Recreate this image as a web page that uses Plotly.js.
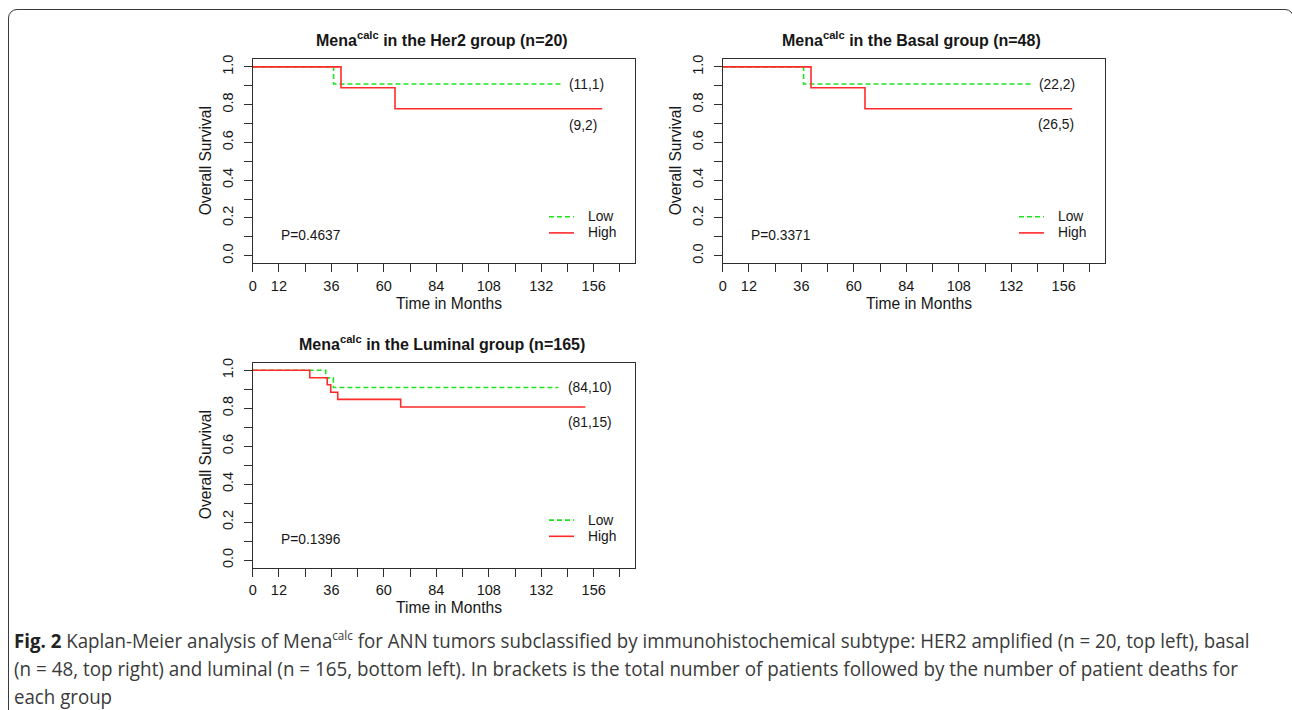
<!DOCTYPE html>
<html>
<head>
<meta charset="utf-8">
<script src="https://cdn.plot.ly/plotly-3.0.1.min.js"></script>
<style>
  html, body { margin: 0; padding: 0; background: #ffffff; }
  #wrap { position: relative; width: 1292px; height: 710px; overflow: hidden; background: #fff; }
  #chart { position: absolute; left: 0; top: 0; width: 1292px; height: 710px; }
  #frame { position: absolute; left: 8px; top: 9px; width: 1285.5px; height: 800px; box-sizing: border-box;
           border: 1.5px solid #3a3a3a; border-radius: 9px; pointer-events: none; z-index: 5; }
  .cap { position: absolute; left: 14px; white-space: nowrap; font-family: "Open Sans", "Noto Sans", sans-serif;
         font-size: 20px; line-height: 22px; color: #3a3a3a; transform-origin: 0 50%; z-index: 6; }
  .cap b { color: #222; font-weight: 700; }
  .cap sup { font-size: 12.5px; line-height: 0; vertical-align: 0; position: relative; top: -8px; }
</style>
</head>
<body>
<div id="wrap">
  <div id="chart"></div>
  <div id="frame"></div>
  <div class="cap" id="cap1" style="top:629.7px"><b>Fig. 2</b> Kaplan-Meier analysis of Mena<sup>calc</sup> for ANN tumors subclassified by immunohistochemical subtype: HER2 amplified (n = 20, top left), basal</div>
  <div class="cap" id="cap2" style="top:658.3px">(n = 48, top right) and luminal (n = 165, bottom left). In brackets is the total number of patients followed by the number of patient deaths for</div>
  <div class="cap" id="cap3" style="top:685.7px">each group</div>
</div>
<script>
// ---------------- data ----------------
const panelTitles = [
  "<b>Mena<sup>calc</sup> in the Her2 group (n=20)</b>",
  "<b>Mena<sup>calc</sup> in the Basal group (n=48)</b>",
  "<b>Mena<sup>calc</sup> in the Luminal group (n=165)</b>"
];
const groupNames = ["Low", "High"];

// Her2
const her2LowTime  = [0, 37.0, 141.6];
const her2LowSurv  = [1, 0.909, 0.909];
const her2HighTime = [0, 40.4, 65.1, 159.9];
const her2HighSurv = [1, 0.889, 0.778, 0.778];
// Basal
const basalLowTime  = [0, 37.0, 141.6];
const basalLowSurv  = [1, 0.909, 0.909];
const basalHighTime = [0, 40.4, 65.1, 159.9];
const basalHighSurv = [1, 0.889, 0.778, 0.778];
// Luminal
const lumLowTime  = [0, 33.4, 36.9, 139.8];
const lumLowSurv  = [1, 0.960, 0.909, 0.909];
const lumHighTime = [0, 26.1, 34.1, 35.7, 38.9, 67.7, 152.2];
const lumHighSurv = [1, 0.961, 0.924, 0.884, 0.847, 0.807, 0.807];

// counts labels (total, deaths) and where they sit (months, survival)
const lowCounts  = ["(11,1)", "(22,2)", "(84,10)"];
const highCounts = ["(9,2)", "(26,5)", "(81,15)"];
const lowCountPos  = [[143.9, 0.907], [143.6, 0.907], [143.2, 0.907]];
const highCountPos = [[143.9, 0.692], [143.3, 0.696], [143.2, 0.725]];

const pValues = ["P=0.4637", "P=0.3371", "P=0.1396"];
const pPos = [[12.2, 0.107], [12.2, 0.107], [12.2, 0.111]];

const xTickVals = [0, 12, 36, 60, 84, 108, 132, 156];
const xTickText = ["0", "12", "36", "60", "84", "108", "132", "156"];
const xMinorTickVals = [24, 48, 72, 96, 120, 144, 168];
const yTickVals = [0, 0.2, 0.4, 0.6, 0.8, 1.0];
const yTickText = ["0.0", "0.2", "0.4", "0.6", "0.8", "1.0"];
const yMinorTickVals = [0.1, 0.3, 0.5, 0.7, 0.9];

const xTitle = "Time in Months";
const yTitle = "Overall Survival";

// ---------------- layout helpers ----------------
const W = 1292, H = 710;
const boxes = [
  {l: 252.7, r: 635.0, t: 59.3, b: 263.3},
  {l: 722.7, r: 1105.0, t: 59.3, b: 263.3},
  {l: 252.7, r: 635.0, t: 362.7, b: 567.7}
];
const GREEN = "#1fe51f", RED = "#ff2a2a", INK = "#161616", AXC = "#2e2e2e";
const FONT = "Liberation Sans, Arial, Helvetica, sans-serif";

const series = [
  [[her2LowTime, her2LowSurv], [her2HighTime, her2HighSurv]],
  [[basalLowTime, basalLowSurv], [basalHighTime, basalHighSurv]],
  [[lumLowTime, lumLowSurv], [lumHighTime, lumHighSurv]]
];

const traces = [];
const layout = {
  width: W, height: H,
  margin: {l: 0, r: 0, t: 0, b: 0, pad: 0},
  paper_bgcolor: "#ffffff", plot_bgcolor: "#ffffff",
  showlegend: false,
  annotations: [], shapes: []
};
function px(x, y) { return {x: x / W, y: 1 - y / H, xref: "paper", yref: "paper"}; }

boxes.forEach((bx, i) => {
  const sfx = i === 0 ? "" : String(i + 1);
  const xa = "x" + sfx, ya = "y" + sfx;
  layout["xaxis" + sfx] = {
    domain: [bx.l / W, bx.r / W], range: [0, 174.9], anchor: ya,
    showline: true, mirror: true, linecolor: AXC, linewidth: 1,
    ticks: "outside", ticklen: 8, tickwidth: 1, tickcolor: AXC,
    tickmode: "array", tickvals: xTickVals, ticktext: xTickText,
    minor: {tickmode: "array", tickvals: xMinorTickVals, ticks: "outside", ticklen: 8, tickwidth: 1, tickcolor: AXC, showgrid: false},
    tickfont: {family: FONT, size: 14.5, color: INK},
    showgrid: false, zeroline: false, fixedrange: true, ticklabelstandoff: 1
  };
  layout["yaxis" + sfx] = {
    domain: [1 - bx.b / H, 1 - bx.t / H], range: [-0.04, 1.04], anchor: xa,
    showline: true, mirror: true, linecolor: AXC, linewidth: 1,
    ticks: "outside", ticklen: 8, tickwidth: 1, tickcolor: AXC,
    tickmode: "array", tickvals: yTickVals, ticktext: yTickText, tickangle: -90,
    minor: {tickmode: "array", tickvals: yMinorTickVals, ticks: "outside", ticklen: 8, tickwidth: 1, tickcolor: AXC, showgrid: false},
    tickfont: {family: FONT, size: 14.5, color: INK},
    showgrid: false, zeroline: false, fixedrange: true, ticklabelstandoff: 5
  };
  const [low, high] = series[i];
  traces.push({x: low[0], y: low[1], xaxis: xa, yaxis: ya, mode: "lines", name: groupNames[0],
               line: {shape: "hv", color: GREEN, width: 1.6, dash: "5px,3px"}, hoverinfo: "skip"});
  traces.push({x: high[0], y: high[1], xaxis: xa, yaxis: ya, mode: "lines", name: groupNames[1],
               line: {shape: "hv", color: RED, width: 1.6}, hoverinfo: "skip"});

  const cx = (bx.l + bx.r) / 2;
  // panel title
  layout.annotations.push(Object.assign(px(cx - 2, bx.t - 20), {
    text: panelTitles[i], showarrow: false, xanchor: "center", yanchor: "middle",
    font: {family: FONT, size: 16, color: INK}}));
  // axis titles
  layout.annotations.push(Object.assign(px(cx + 5, bx.b + 40), {
    text: xTitle, showarrow: false, xanchor: "center", yanchor: "middle",
    font: {family: FONT, size: 15.6, color: INK}}));
  layout.annotations.push(Object.assign(px(bx.l - 47.7, (bx.t + bx.b) / 2), {
    text: yTitle, showarrow: false, xanchor: "center", yanchor: "middle", textangle: -90,
    font: {family: FONT, size: 15.6, color: INK}}));
  // counts
  layout.annotations.push({x: lowCountPos[i][0], y: lowCountPos[i][1], xref: xa, yref: ya,
    text: lowCounts[i], showarrow: false, xanchor: "left", yanchor: "middle",
    font: {family: FONT, size: 13.8, color: INK}});
  layout.annotations.push({x: highCountPos[i][0], y: highCountPos[i][1], xref: xa, yref: ya,
    text: highCounts[i], showarrow: false, xanchor: "left", yanchor: "middle",
    font: {family: FONT, size: 13.8, color: INK}});
  // p value
  layout.annotations.push({x: pPos[i][0], y: pPos[i][1], xref: xa, yref: ya,
    text: pValues[i], showarrow: false, xanchor: "left", yanchor: "middle",
    font: {family: FONT, size: 13.8, color: INK}});
  // legend
  const lgX0 = bx.l + 296.3, lgX1 = bx.l + 321.3, lgTx = bx.l + 333;
  const lgY = [bx.t + 157.4, bx.t + 173.6];
  const lgCol = [GREEN, RED], lgDash = ["5px,3px", "solid"];
  [0, 1].forEach(k => {
    layout.shapes.push({type: "line", xref: "paper", yref: "paper",
      x0: lgX0 / W, x1: lgX1 / W, y0: 1 - lgY[k] / H, y1: 1 - lgY[k] / H,
      line: {color: lgCol[k], width: 1.6, dash: lgDash[k]}});
    layout.annotations.push(Object.assign(px(lgTx, lgY[k]), {
      text: groupNames[k], showarrow: false, xanchor: "left", yanchor: "middle",
      font: {family: FONT, size: 13.8, color: INK}}));
  });
});

Plotly.newPlot("chart", traces, layout, {staticPlot: true, displayModeBar: false});

// ---------------- caption fitting ----------------
function fitCaption() {
  const c1 = document.getElementById("cap1"), c2 = document.getElementById("cap2"), c3 = document.getElementById("cap3");
  [c1, c2, c3].forEach(c => c.style.transform = "none");
  const s1 = 1236 / c1.scrollWidth, s2 = 1224 / c2.scrollWidth;
  c1.style.transform = "scaleX(" + s1 + ")";
  c2.style.transform = "scaleX(" + s2 + ")";
  c3.style.transform = "scaleX(" + s1 + ")";
}
fitCaption();
if (document.fonts && document.fonts.ready) document.fonts.ready.then(fitCaption);
</script>
</body>
</html>
